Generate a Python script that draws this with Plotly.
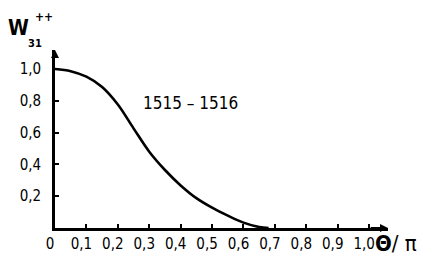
import plotly.graph_objects as go

theta = [0.0, 0.05, 0.10, 0.15, 0.20, 0.25, 0.30, 0.35, 0.40, 0.45, 0.50, 0.55, 0.60, 0.65, 0.68]
w31 = [1.0, 0.987, 0.952, 0.887, 0.777, 0.627, 0.480, 0.365, 0.268, 0.188, 0.128, 0.078, 0.034, 0.006, 0.0]

x_tickvals = [0.0, 0.1, 0.2, 0.3, 0.4, 0.5, 0.6, 0.7, 0.8, 0.9, 1.0]
x_ticktext = ["0", "0,1", "0,2", "0,3", "0,4", "0,5", "0,6", "0,7", "0,8", "0,9", "1,0"]
y_tickvals = [0.2, 0.4, 0.6, 0.8, 1.0]
y_ticktext = ["0,2", "0,4", "0,6", "0,8", "1,0"]

curve_label = "1515 – 1516"

FONT = "DejaVu Sans Condensed, Liberation Sans Narrow, DejaVu Sans, sans-serif"

# page offset (browser body margin)
OFF = 8
L, T = 53, 50          # plot origin-left / top in screenshot pixels
R, B = 388, 228        # plot right / bottom in screenshot pixels
W, H = 441, 268

fig = go.Figure()
fig.add_trace(go.Scatter(x=theta, y=w31, mode="lines",
                         line=dict(color="black", width=2.6, shape="spline", smoothing=1.0),
                         hoverinfo="skip", showlegend=False))

fig.update_layout(
    width=W, height=H,
    margin=dict(l=L - OFF, r=W - (R - OFF), t=T - OFF, b=H - (B - OFF)),
    paper_bgcolor="white", plot_bgcolor="white",
    font=dict(family=FONT, size=13, color="black"),
    xaxis=dict(range=[0, 1.06], showgrid=False, zeroline=False, showline=True,
               linecolor="black", linewidth=2.6, ticks="inside", ticklen=4,
               tickwidth=2, tickcolor="black", tickvals=x_tickvals,
               ticktext=x_ticktext, fixedrange=True, ticklabelshift=-5,
               tickfont=dict(family=FONT, size=15)),
    yaxis=dict(range=[0, 1.12], showgrid=False, zeroline=False, showline=True,
               linecolor="black", linewidth=2.6, ticks="inside", ticklen=4,
               tickwidth=2, tickcolor="black", tickvals=y_tickvals,
               ticktext=y_ticktext, fixedrange=True, ticklabelstandoff=8,
               tickfont=dict(family=FONT, size=15)),
)

pw = R - L
ph = B - T
def px(x):
    return (x - L) / pw
def py(y):
    return (B - y) / ph

fig.add_annotation(text=curve_label, x=px(189), y=py(103), xref="paper", yref="paper",
                   showarrow=False, font=dict(family=FONT, size=17),
                   xanchor="center", yanchor="middle")
fig.add_annotation(text="<b>W</b>", x=px(16), y=py(28), xref="paper", yref="paper",
                   showarrow=False, font=dict(family=FONT, size=21), xanchor="center", yanchor="middle")
fig.add_annotation(text="<b>31</b>", x=px(33), y=py(43), xref="paper", yref="paper",
                   showarrow=False, font=dict(family=FONT, size=11), xanchor="center", yanchor="middle")
fig.add_annotation(text="<b>++</b>", x=px(42), y=py(17), xref="paper", yref="paper",
                   showarrow=False, font=dict(family=FONT, size=12), xanchor="center", yanchor="middle")
fig.add_annotation(text="<b>Θ</b>/ π", x=px(396), y=py(243), xref="paper", yref="paper",
                   showarrow=False, font=dict(family=FONT, size=22), xanchor="center", yanchor="middle")
# axis arrowheads
fig.add_annotation(x=1.06, y=0, ax=1.0, ay=0, xref="x", yref="y", axref="x", ayref="y",
                   text="", showarrow=True, arrowhead=2, arrowsize=0.8, arrowwidth=2, arrowcolor="black")
fig.add_annotation(x=0, y=1.12, ax=0, ay=1.06, xref="x", yref="y", axref="x", ayref="y",
                   text="", showarrow=True, arrowhead=2, arrowsize=0.8, arrowwidth=2, arrowcolor="black")

fig.write_html("out.html")
